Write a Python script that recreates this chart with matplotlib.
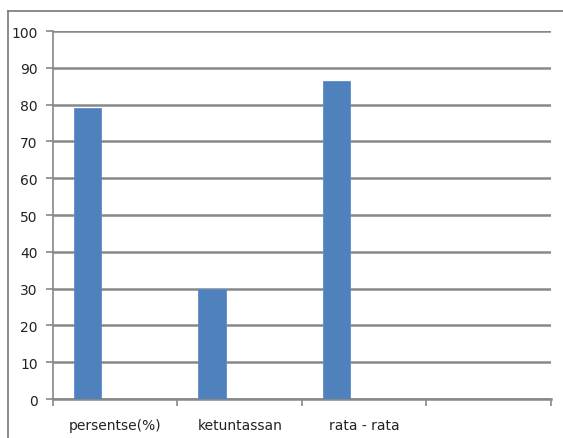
import numpy as np
import matplotlib
matplotlib.use("Agg")
import matplotlib.pyplot as plt
from matplotlib.lines import Line2D

plt.rcParams['font.family'] = ['Liberation Sans Narrow', 'DejaVu Sans']

# data
categories = ['persentse(%)', 'ketuntassan', 'rata - rata', '']
values = [79, 30, 86.5, np.nan]
yticks = [0, 10, 20, 30, 40, 50, 60, 70, 80, 90, 100]

bar_color = '#4F81BD'
grid_color = '#888888'

fig = plt.figure(figsize=(5.63, 4.39), dpi=100)
ax = fig.add_axes([0.0941, 0.0888, 0.8845, 0.8382])

x = np.arange(len(categories))
# first series of a three-series cluster sits left of the category centre
ax.bar(x - 0.222, values, width=0.222, color=bar_color, edgecolor='#5B8CC8',
       linewidth=0.6, zorder=3)

ax.set_xlim(-0.5, len(categories) - 0.5)
ax.set_ylim(0, 100)
ax.set_yticks(yticks)
ax.set_yticklabels([str(v) for v in yticks], fontsize=10, color='#222222')
ax.yaxis.grid(True, color=grid_color, linewidth=1.8, zorder=0)

ax.set_xticks(x)
ax.set_xticklabels(categories, fontsize=10, color='#222222')
ax.tick_params(axis='x', length=0, pad=14)
ax.tick_params(axis='y', length=5, width=1.2, color=grid_color, pad=6)

# category separators on the x axis
ax.set_xticks(np.arange(len(categories) + 1) - 0.5, minor=True)
ax.tick_params(axis='x', which='minor', length=5, width=1.2, color=grid_color)

for side in ['top', 'right']:
    ax.spines[side].set_visible(False)
ax.spines['left'].set_color(grid_color)
ax.spines['left'].set_linewidth(1.2)
ax.spines['bottom'].set_color(grid_color)
ax.spines['bottom'].set_linewidth(1.8)

# outer frame
fig.add_artist(Line2D([0.0142, 1.0], [1 - 12 / 439, 1 - 12 / 439],
                      transform=fig.transFigure, color='#777777', linewidth=1.2))
fig.add_artist(Line2D([0.0142, 0.0142], [0.0, 1 - 12 / 439],
                      transform=fig.transFigure, color='#777777', linewidth=1.2))

fig.savefig('out.png', dpi=100)
